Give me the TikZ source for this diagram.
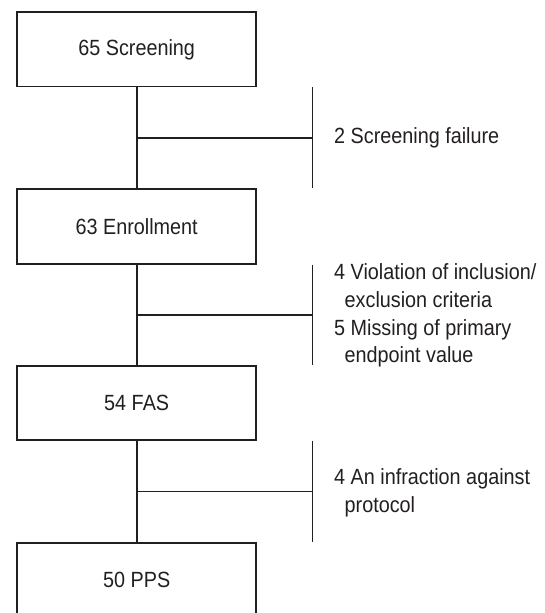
\documentclass[tikz,border=0pt]{standalone}
\usepackage{fontspec}
\setmainfont{Liberation Sans}[FakeStretch=0.9]
\usetikzlibrary{calc}
\definecolor{ink}{RGB}{35,31,32}
\begin{document}
\begin{tikzpicture}[x=1pt,y=-1pt,
  line/.style={draw=ink, line width=1.8pt},
  txt/.style={text=ink, font=\fontsize{22}{27.7}\selectfont},
  stage/.style={line, txt, rectangle, minimum width=238.7pt, minimum height=74.3pt, inner sep=0pt},
  side/.style={txt, anchor=west, align=left, inner sep=0pt}]
\useasboundingbox (0,0) rectangle (545,613);
\clip (0,0) rectangle (545,613);
\fill[white] (0,0) rectangle (545,613);
\coordinate (barx) at (312.5,0);
\coordinate (textx) at (334,0);
\node[stage] (s) at (136.7,49.4) {65 Screening};
\node[stage] (e) at (136.7,226.5) {63 Enrollment};
\node[stage] (f) at (136.7,402.9) {54 FAS};
\node[stage] (p) at (136.7,579.9) {50 PPS};
% trunk
\draw[line] (s) -- (e);
\draw[line] (e) -- (f);
\draw[line] (f) -- (p);
% side bars
\draw[line] (s.south -| barx) -- (e.north -| barx);
\draw[line] (e.south -| barx) -- (f.north -| barx);
\draw[line] (f.south -| barx) -- (p.north -| barx);
% branch points
\coordinate (m1) at ($(s.south)!0.5!(e.north)$);
\coordinate (m2) at ($(e.south)!0.5!(f.north)$);
\coordinate (m3) at ($(f.south)!0.5!(p.north)$);
\draw[line] (m1) -- (m1 -| barx);
\draw[line] (m2) -- (m2 -| barx);
\draw[line] (m3) -- (m3 -| barx);
% texts
\node[side] (t1) at (m1 -| textx) {2 Screening failure};
\node[side] (t2) at ($(m2 -| textx)+(0,1)$) {4 Violation of inclusion/\\\hspace*{10.5pt}exclusion criteria\\5 Missing of primary\\\hspace*{10.5pt}endpoint value};
\node[side] (t3) at ($(m3 -| textx)+(0,1.5)$) {4 An infraction against\\\hspace*{10.5pt}protocol};
\end{tikzpicture}
\end{document}
